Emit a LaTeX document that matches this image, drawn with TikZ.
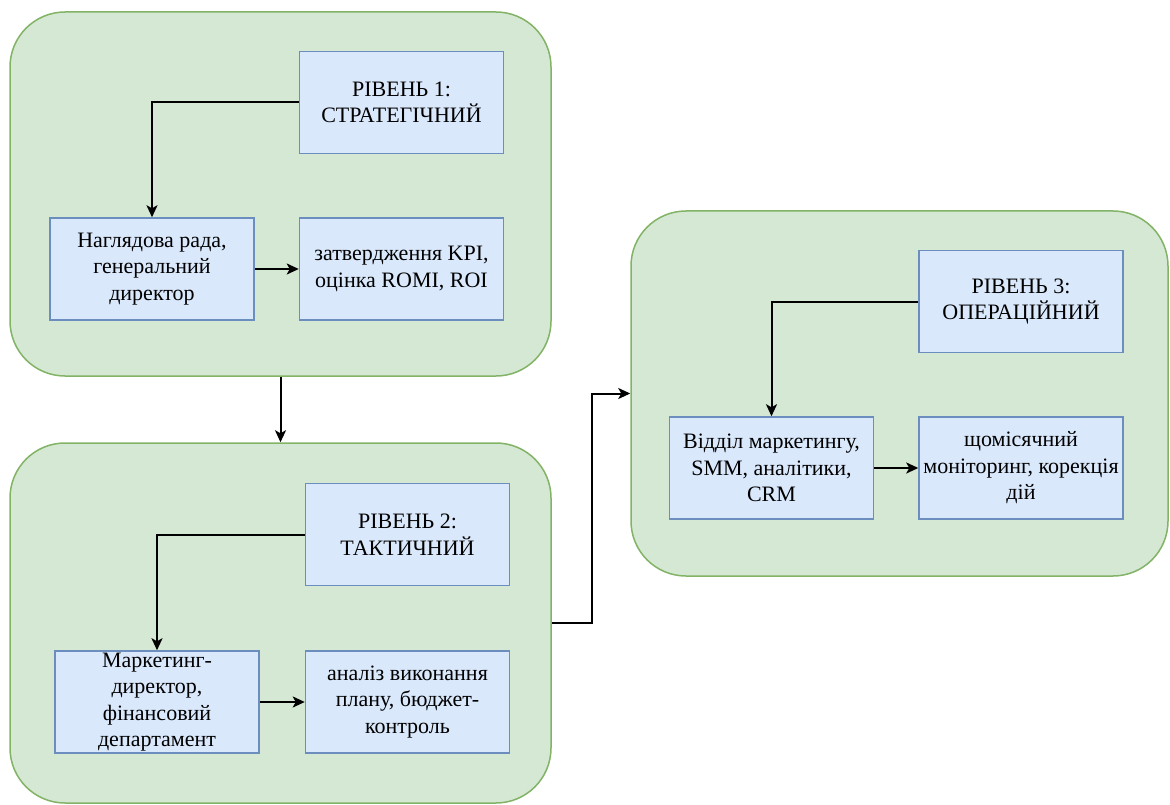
\documentclass[tikz,border=0pt]{standalone}
\usepackage{fontspec}
\setmainfont{Liberation Serif}
\newfontfamily\boxfont{Liberation Serif}
\usetikzlibrary{arrows.meta}
\definecolor{panelfill}{HTML}{D5E8D4}
\definecolor{panelline}{HTML}{82B366}
\definecolor{boxfill}{HTML}{DAE8FC}
\definecolor{boxline}{HTML}{6C8EBF}
\tikzset{
  panel/.style={draw=panelline, fill=panelfill, line width=1.5pt, rounded corners=55pt, inner sep=0pt},
  box/.style={draw=boxline, fill=boxfill, line width=1.5pt, minimum width=204pt, minimum height=102pt, inner sep=0pt, align=center, font=\boxfont\fontsize{22}{26.5}\selectfont},
  conn/.style={draw=black, line width=2pt, -{Stealth[length=12pt,width=11pt,inset=3pt]}}
}
\begin{document}
\begin{tikzpicture}[x=1pt,y=-1pt]
\useasboundingbox (0,0) rectangle (1170,805);
% panels
\node[panel, minimum width=541pt, minimum height=364pt] (p1) at (280.5,194) {};
\node[panel, minimum width=541pt, minimum height=360pt] (p2) at (280.5,623) {};
\node[panel, minimum width=537pt, minimum height=365pt] (p3) at (899.5,393.5) {};
% level 1
\node[box] (r1) at (401.5,102.5) {РІВЕНЬ 1:\\СТРАТЕГІЧНИЙ};
\node[box] (n1) at (152,269) {Наглядова рада,\\генеральний\\директор};
\node[box] (k1) at (401.5,269) {затвердження KPI,\\оцінка ROMI, ROI};
% level 2
\node[box] (r2) at (407.5,534.5) {РІВЕНЬ 2:\\ТАКТИЧНИЙ};
\node[box] (m2) at (157,702) {Маркетинг-\\директор,\\фінансовий\\департамент};
\node[box] (a2) at (407.5,702) {аналіз виконання\\плану, бюджет-\\контроль};
% level 3
\node[box] (r3) at (1021,301.5) {РІВЕНЬ 3:\\ОПЕРАЦІЙНИЙ};
\node[box] (v3) at (771.5,468) {Відділ маркетингу,\\SMM, аналітики,\\CRM};
\node[box] (s3) at (1021,468) {щомісячний\\моніторинг, корекція\\дій};
% connectors
\draw[conn] (r1.west) -| (n1.north);
\draw[conn] (n1.east) -- (k1.west);
\draw[conn] (r2.west) -| (m2.north);
\draw[conn] (m2.east) -- (a2.west);
\draw[conn] (r3.west) -| (v3.north);
\draw[conn] (v3.east) -- (s3.west);
\draw[conn] (p1.south) -- (p2.north);
\coordinate (bend) at (592,623);
\draw[conn] (p2.east) -- (bend) |- (p3.west);
\end{tikzpicture}
\end{document}
